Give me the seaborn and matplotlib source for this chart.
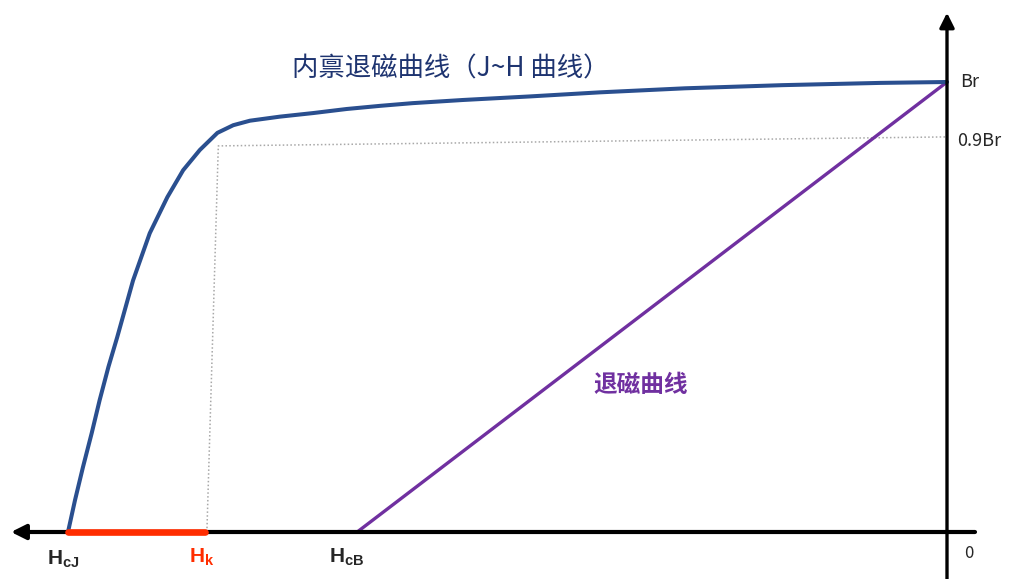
import numpy as np
import pandas as pd
import seaborn as sns
import matplotlib.pyplot as plt

sns.set_style("white")
plt.rcParams["font.family"] = ["Noto Sans CJK SC", "DejaVu Sans"]
plt.rcParams["mathtext.fontset"] = "custom"
plt.rcParams["mathtext.rm"] = "Liberation Sans"
plt.rcParams["mathtext.bf"] = "Liberation Sans:bold"

# H / HcJ  and  B / Br
hcj = -1.0
hk = -0.844
hcb = -0.671
br = 1.0
knee_b = 0.878   # level of the dotted "0.9Br" guide as drawn

# intrinsic demagnetisation curve (J~H)
jh_h = [-1.0, -0.992, -0.983, -0.973, -0.964, -0.954, -0.944, -0.926, -0.907,
        -0.887, -0.869, -0.850, -0.830, -0.812, -0.793, -0.759, -0.721,
        -0.683, -0.645, -0.608, -0.551, -0.474, -0.395, -0.298, -0.187,
        -0.076, 0.0]
jh_b = [0.0, 0.071, 0.144, 0.220, 0.293, 0.367, 0.433, 0.559, 0.664,
        0.744, 0.804, 0.849, 0.887, 0.904, 0.914, 0.923, 0.931,
        0.940, 0.947, 0.953, 0.960, 0.968, 0.977, 0.986, 0.993,
        0.998, 1.0]

# normal demagnetisation curve (B~H)
bh_h = [hcb, 0.0]
bh_b = [0.0, br]

# dotted guide from Hk up to the 0.9Br level
guide_h = [hk + 0.002, hk + 0.015, 0.0]
guide_b = [0.0, 0.858, knee_b]

jh = pd.DataFrame({"H": jh_h, "B": jh_b})
bh = pd.DataFrame({"H": bh_h, "B": bh_b})
guide = pd.DataFrame({"H": guide_h, "B": guide_b})

fig = plt.figure(figsize=(10.11, 5.79), dpi=100)
ax = fig.add_axes([0, 0, 1, 1])
ax.set_xlim(-947 / 879, 64 / 879)
ax.set_ylim(-47 / 450, 532 / 450)
ax.axis("off")

sns.lineplot(data=guide, x="H", y="B", sort=False, ax=ax, color="#a8a8a8",
             lw=1.1, linestyle=(0, (1, 1.5)))
sns.lineplot(data=bh, x="H", y="B", sort=False, ax=ax, color="#7030a0", lw=2.4)
sns.lineplot(data=jh, x="H", y="B", sort=False, ax=ax, color="#2a4f8f", lw=2.9,
             solid_joinstyle="round", solid_capstyle="round")

# axes with arrows
ax.annotate("", xy=(-1.068, 0), xytext=(0.035, 0),
            arrowprops=dict(arrowstyle="-|>", lw=3, color="black", mutation_scale=22))
ax.annotate("", xy=(0, 1.16), xytext=(0, -0.11),
            arrowprops=dict(arrowstyle="-|>", lw=2.4, color="black", mutation_scale=22))

# Hk range on the H axis
sns.lineplot(x=[hcj, hk], y=[0, 0], ax=ax, color="#ff2d00", lw=4.8, zorder=5)

ax.text(0.015, br, "Br", fontsize=13, va="center", ha="left")
ax.text(0.011, knee_b - 0.01, "0.9Br", fontsize=13, va="center", ha="left")
ax.text(0.02, -0.047, "0", fontsize=12, va="center", ha="left")

ax.text(hcj - 0.005, -0.06, r"$\mathbf{H}_{\mathbf{cJ}}$", fontsize=15, ha="center", va="center")
ax.text(hk - 0.004, -0.055, r"$\mathbf{H}_{\mathbf{k}}$", fontsize=15, ha="center",
        va="center", color="#ff2d00")
ax.text(hcb - 0.012, -0.055, r"$\mathbf{H}_{\mathbf{cB}}$", fontsize=15, ha="center", va="center")

ax.text(-0.565, 1.03, "内禀退磁曲线（J~H 曲线）", fontsize=19, color="#1e3470",
        ha="center", va="center")
ax.text(-0.349, 0.327, "退磁曲线", fontsize=17, color="#7030a0", fontweight="bold",
        ha="center", va="center")

fig.savefig("out.png", dpi=100)
